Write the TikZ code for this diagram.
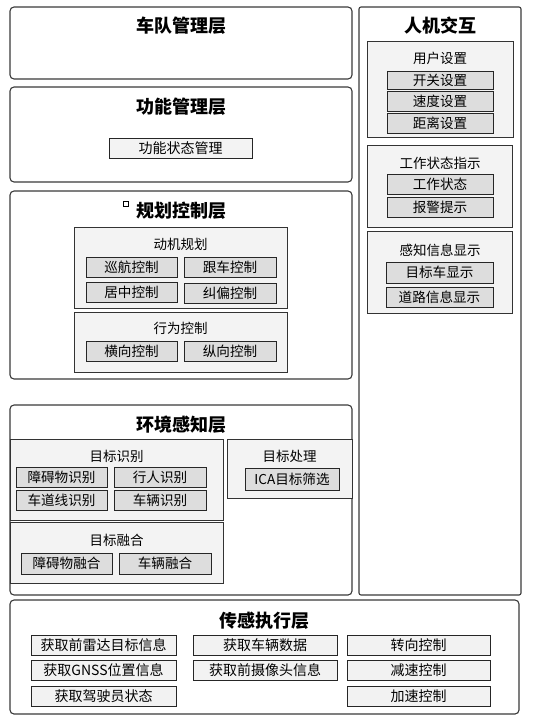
\documentclass[tikz,border=0pt]{standalone}
\usepackage{fontspec}
\setmainfont{Noto Sans CJK SC}
\definecolor{framegray}{HTML}{3A3A3A}
\definecolor{groupfill}{HTML}{F3F3F3}
\definecolor{itemfill}{HTML}{DDDDDD}
\definecolor{lightfill}{HTML}{F2F2F2}
\begin{document}
\begin{tikzpicture}[x=1pt,y=-1pt,
  layer/.style={draw=framegray, line width=1.1pt, rounded corners=4pt, fill=white, inner sep=0pt},
  group/.style={draw=black!80, line width=0.8pt, fill=groupfill, inner sep=0pt},
  item/.style={draw=black!85, line width=0.8pt, fill=itemfill, inner sep=0pt, minimum width=91pt, minimum height=20pt, font=\fontsize{13.6}{13.6}\selectfont},
  plainitem/.style={item, fill=lightfill, font=\fontsize{14}{14}\selectfont},
  title/.style={font=\fontsize{18}{18}\selectfont\bfseries, inner sep=0pt},
  caption/.style={font=\fontsize{13.5}{13.5}\selectfont, inner sep=0pt}]
\useasboundingbox (0,0) rectangle (534,725);
% layers
\node[layer, minimum width=342pt, minimum height=72pt] (fleet) at (181,43) {};
\node[layer, minimum width=342pt, minimum height=95pt] (func) at (181,134.5) {};
\node[layer, minimum width=342pt, minimum height=188pt] (plan) at (181,285) {};
\node[layer, minimum width=342pt, minimum height=190pt] (env) at (181,500) {};
\node[layer, rounded corners=2pt, minimum width=162pt, minimum height=588pt] (hmi) at (440,301) {};
\node[layer, minimum width=509pt, minimum height=114pt] (sense) at (264.5,657) {};
\node[title] (fleett) at (181,26) {车队管理层};
\node[title] (funct) at (181,107) {功能管理层};
\node[title] (plant) at (181,211) {规划控制层};
\node[draw=black, line width=0.7pt, minimum size=5pt, inner sep=0pt] (mark) at (125.5,204) {};
\node[title] (envt) at (181,425) {环境感知层};
\node[title] (hmit) at (440,26) {人机交互};
\node[title] (senset) at (264,621) {传感执行层};
% function layer
\node[plainitem, fill=groupfill, minimum width=143pt] (fstate) at (180.5,148) {功能状态管理};
% planning layer
\node[group, minimum width=213pt, minimum height=81pt] (motive) at (180.5,267.5) {};
\node[caption] (motivet) at (180.5,244) {动机规划};
\node[item] (cruise) at (131.5,267) {巡航控制};
\node[item, minimum width=92pt] (follow) at (230,267.5) {跟车控制};
\node[item] (center) at (131.5,292) {居中控制};
\node[item, minimum width=92pt] (correct) at (230,293) {纠偏控制};
\node[group, minimum width=213pt, minimum height=60pt] (behav) at (180.5,342) {};
\node[caption] (behavt) at (180.5,328) {行为控制};
\node[item] (lateral) at (131.5,351) {横向控制};
\node[item, minimum width=92pt] (longit) at (230,351) {纵向控制};
% perception layer
\node[group, minimum width=213pt, minimum height=81pt] (recog) at (116.5,479.5) {};
\node[caption] (recogt) at (116.5,456) {目标识别};
\node[item] (obsrec) at (61.5,477) {障碍物识别};
\node[item, minimum width=92pt] (pedrec) at (160,477) {行人识别};
\node[item] (lanerec) at (61.5,500) {车道线识别};
\node[item, minimum width=92pt] (vehrec) at (160,500) {车辆识别};
\node[group, minimum width=213pt, minimum height=61pt] (fuse) at (116.5,552.5) {};
\node[caption] (fuset) at (116.5,540) {目标融合};
\node[item, minimum height=21pt] (obsfuse) at (66.5,563.5) {障碍物融合};
\node[item, minimum width=92pt, minimum height=21pt] (vehfuse) at (165,563.5) {车辆融合};
\node[group, minimum width=125pt, minimum height=59pt] (proc) at (289.5,468.5) {};
\node[caption] (proct) at (289.5,456) {目标处理};
\node[item, minimum width=94pt, minimum height=22pt] (icasel) at (292,479) {ICA目标筛选};
% human-machine interaction
\node[group, minimum width=146pt, minimum height=96pt] (user) at (440,89) {};
\node[caption] (usert) at (440,58) {用户设置};
\node[item, minimum width=106pt, minimum height=18pt] (switchset) at (440,80) {开关设置};
\node[item, minimum width=106pt] (speedset) at (440,101) {速度设置};
\node[item, minimum width=106pt] (distset) at (440,123) {距离设置};
\node[group, minimum width=145pt, minimum height=82pt] (work) at (439.5,186) {};
\node[caption] (workt) at (440,163) {工作状态指示};
\node[item, minimum width=106pt] (workstate) at (440,184) {工作状态};
\node[item, minimum width=106pt] (alarm) at (440,207) {报警提示};
\node[group, minimum width=145pt, minimum height=82pt] (disp) at (439.5,272) {};
\node[caption] (dispt) at (440,250) {感知信息显示};
\node[item, minimum width=107pt, minimum height=21pt] (targetcar) at (439.5,272.5) {目标车显示};
\node[item, minimum width=107pt] (roadinfo) at (439.5,297) {道路信息显示};
% sensing and actuation layer
\node[plainitem, minimum width=145pt] (radar) at (103.5,645) {获取前雷达目标信息};
\node[plainitem, minimum width=144pt] (vehdata) at (265,645) {获取车辆数据};
\node[plainitem, minimum width=143pt] (steer) at (418.5,645) {转向控制};
\node[plainitem, minimum width=145pt] (gnss) at (103.5,670) {获取GNSS位置信息};
\node[plainitem, minimum width=144pt] (camera) at (265,670) {获取前摄像头信息};
\node[plainitem, minimum width=143pt] (decel) at (418.5,670) {减速控制};
\node[plainitem, minimum width=145pt] (driver) at (103.5,696) {获取驾驶员状态};
\node[plainitem, minimum width=143pt] (accel) at (418.5,696) {加速控制};
\end{tikzpicture}
\end{document}
